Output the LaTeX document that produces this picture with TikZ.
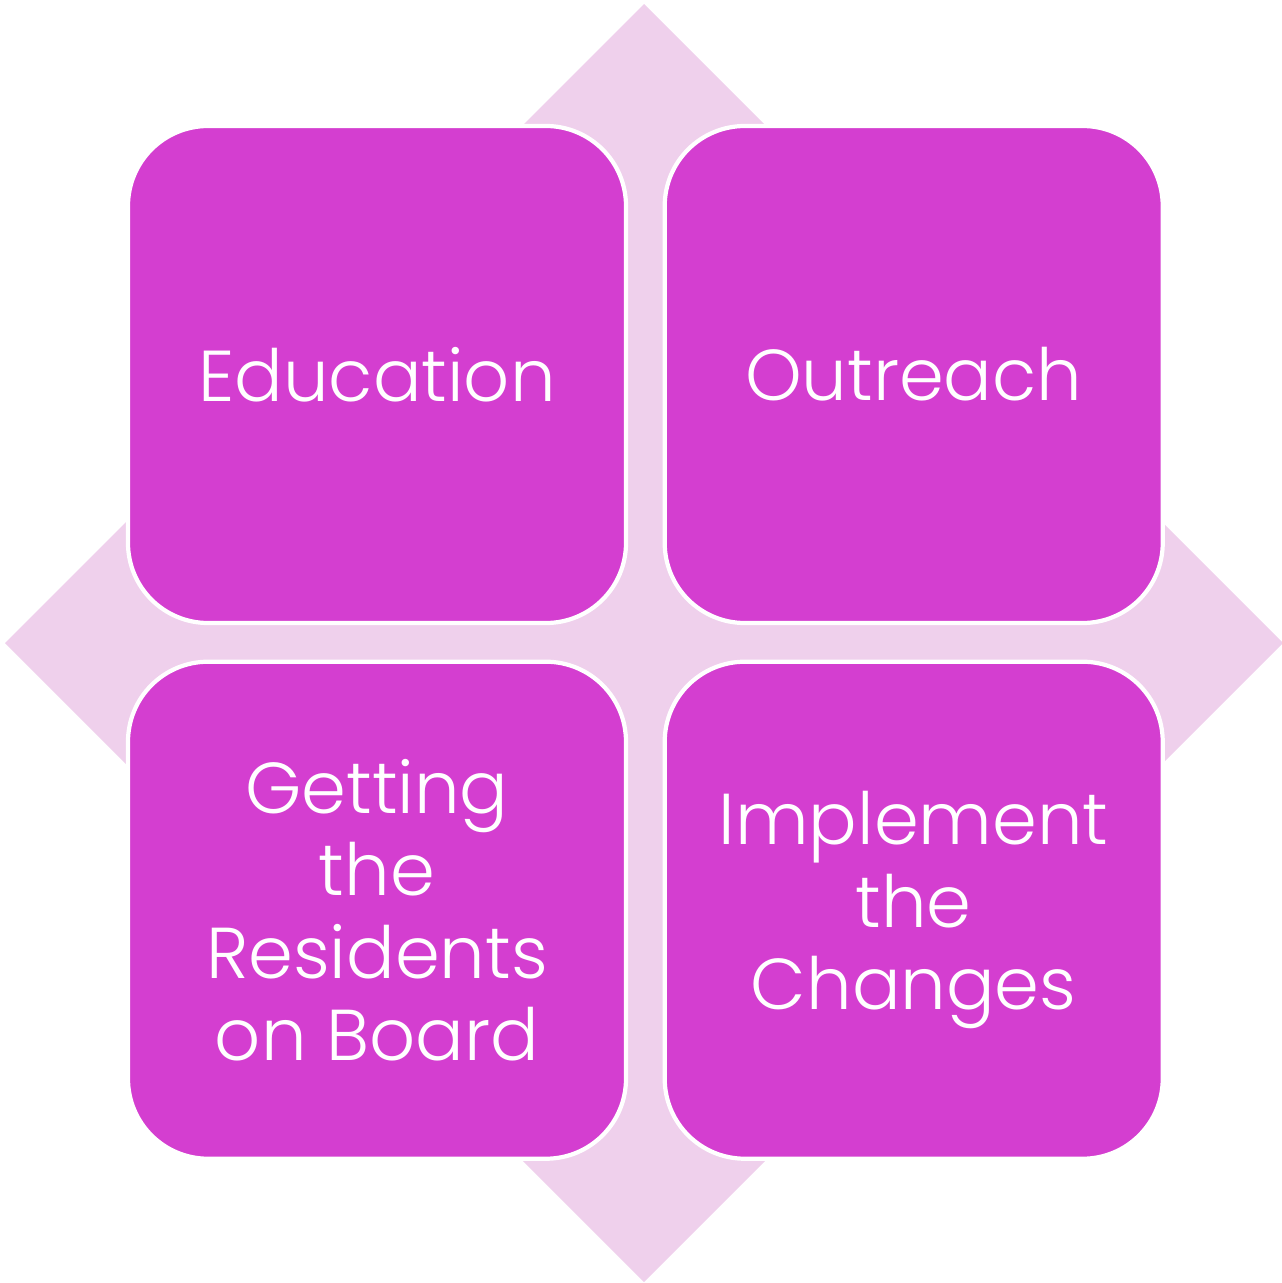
\documentclass[tikz,border=0pt]{standalone}
\usepackage{fontspec}
\setmainfont{Poppins}[UprightFont=* Light]
\usepackage{tikz}
\usetikzlibrary{positioning, calc}
\definecolor{tilefill}{HTML}{D43ED0}
\definecolor{diamondfill}{HTML}{EFD0EC}
\tikzstyle{tilebox}=[rectangle,rounded corners=1.6cm,draw=white,line width=2.4pt,
fill=tilefill,text=white,minimum width=9.96cm,minimum height=9.94cm,
align=center,font=\fontsize{41}{47}\selectfont]

\begin{document}
\begin{tikzpicture}
    \useasboundingbox (0,0) rectangle (25.62,-25.66);
    \coordinate (mid) at (12.88,-12.86);
    \fill[diamondfill] ($(mid)+(0,12.78)$) -- ($(mid)+(12.78,0)$)
        -- ($(mid)+(0,-12.78)$) -- ($(mid)+(-12.78,0)$) -- cycle;
    \node[tilebox] (edu) at (7.54,-7.49) {Education};
    \node[tilebox, right=0.69cm of edu] (outr) {Outreach};
    \node[tilebox, below=0.69cm of edu] (resid) {Getting\\the\\Residents\\on Board};
    \node[tilebox, right=0.69cm of resid] (impl) {Implement\\the\\Changes};
\end{tikzpicture}
\end{document}
